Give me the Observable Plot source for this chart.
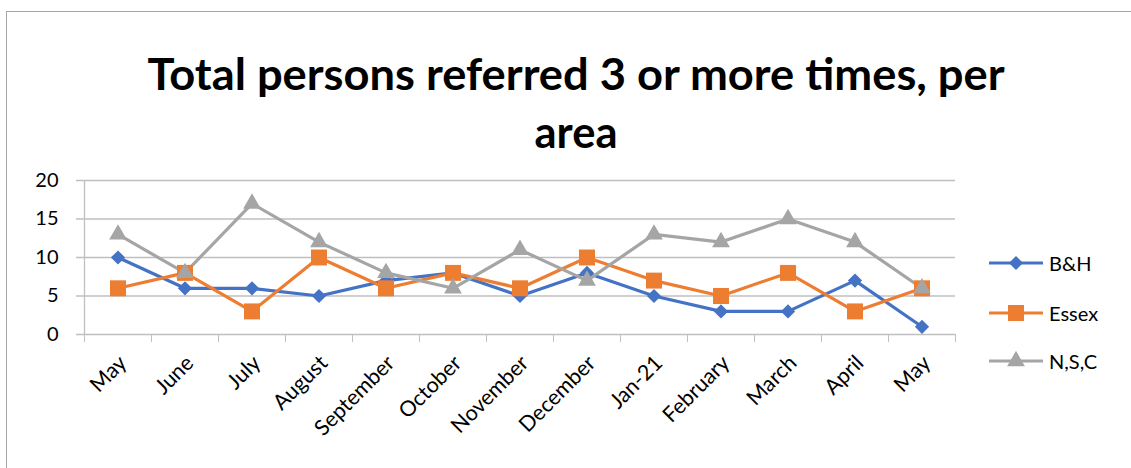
<!DOCTYPE html>
<html>
<head>
<meta charset="utf-8">
<script src="https://cdn.jsdelivr.net/npm/d3@7"></script>
<script src="https://cdn.jsdelivr.net/npm/@observablehq/plot@0.6"></script>
<style>
  html, body { margin: 0; padding: 0; background: #fff; }
  #wrap { position: relative; width: 1131px; height: 468px; overflow: hidden; font-family: Lato, "Open Sans", sans-serif; }
  #frame { position: absolute; left: 6px; top: 11px; width: 1200px; height: 600px; border: 1.5px solid #a6a6a6; box-sizing: border-box; }
  .tline { position: absolute; left: 0; width: 1153px; text-align: center; font-weight: 700; font-size: 43px; color: #000; white-space: nowrap; line-height: 1; }
  .tline span { display: inline-block; transform-origin: center; }
  #plot { position: absolute; left: 0; top: 160px; }
  #legend { position: absolute; left: 988px; top: 0; }
  .lrow { position: absolute; left: 0; display: flex; align-items: center; font-size: 20px; color: #000; white-space: nowrap; }
  .lrow svg { margin-right: 5px; }
</style>
</head>
<body>
<div id="wrap">
  <div id="frame"></div>
  <div class="tline" id="t1" style="top:52px"><span>Total persons referred 3 or more times, per</span></div>
  <div class="tline" id="t2" style="top:110px"><span>area</span></div>
  <div id="plot"></div>
  <div id="legend"></div>
</div>
<script>
const months = ["May","June","July","August","September","October","November","December","Jan-21","February","March","April","May"];
const bh    = [10, 6, 6, 5, 7, 8, 5, 8, 5, 3, 3, 7, 1];
const essex = [ 6, 8, 3,10, 6, 8, 6,10, 7, 5, 8, 3, 6];
const nsc   = [13, 8,17,12, 8, 6,11, 7,13,12,15,12, 6];
const seriesNames = ["B&H", "Essex", "N,S,C"];
const seriesColors = ["#4472C4", "#ED7D31", "#A5A5A5"];
const seriesSymbols = ["diamond2", "square", "triangle"];
const seriesR = [6.4, 9, 6.6];
const yTicks = [0, 5, 10, 15, 20];

const seriesValues = [bh, essex, nsc];
const rows = [];
seriesNames.forEach((name, s) => {
  seriesValues[s].forEach((v, i) => rows.push({series: name, i, month: months[i], value: v}));
});
const labels = months.map((m, i) => ({i, m}));
const boundaries = d3.range(months.length + 1).map(k => k - 0.5);
const grid = "#BFBFBF";

const marks = [
  Plot.ruleY(yTicks, {y: d => d, stroke: grid, strokeWidth: 1.3, insetLeft: -8}),
  Plot.axisY({ticks: yTicks, tickSize: 0, tickPadding: 26, fontSize: 20, fill: "#000", fontFamily: "Lato", label: null}),
  Plot.ruleX([boundaries[0]], {x: d => d, y1: 0, y2: 20, stroke: grid, strokeWidth: 1.3}),
  Plot.axisX({ticks: boundaries, tickSize: 8, tickFormat: () => "", stroke: grid, label: null}),
  Plot.text(labels, {x: "i", y: () => 0, text: "m", rotate: -45, textAnchor: "end", dx: 5, dy: 25, fontSize: 21.5, fill: "#000", fontFamily: "Lato"})
];
seriesNames.forEach((name, s) => {
  const data = rows.filter(r => r.series === name);
  marks.push(Plot.line(data, {x: "i", y: "value", stroke: seriesColors[s], strokeWidth: 3.2, curve: "linear"}));
});
seriesNames.forEach((name, s) => {
  const data = rows.filter(r => r.series === name);
  marks.push(Plot.dot(data, {x: "i", y: "value", symbol: () => seriesSymbols[s], r: seriesR[s], fill: seriesColors[s], stroke: "none"}));
});

const chart = Plot.plot({
  width: 1131, height: 308,
  marginTop: 20, marginBottom: 134, marginLeft: 84, marginRight: 176,
  x: {type: "linear", domain: [boundaries[0], boundaries[boundaries.length - 1]], axis: null},
  y: {domain: [0, 20], axis: null},
  style: {fontFamily: "Lato", background: "transparent", overflow: "visible"},
  marks
});
document.getElementById("plot").appendChild(chart);

// legend
const legend = document.getElementById("legend");
const legendTops = [263, 313, 361];
seriesNames.forEach((name, s) => {
  const row = document.createElement("div");
  row.className = "lrow";
  row.style.top = (legendTops[s] - 12) + "px";
  const svg = d3.create("svg").attr("width", 56).attr("height", 24);
  svg.append("line").attr("x1", 1).attr("x2", 55).attr("y1", 12).attr("y2", 12).attr("stroke", seriesColors[s]).attr("stroke-width", 3.2);
  const sym = {diamond2: d3.symbolDiamond2, square: d3.symbolSquare, triangle: d3.symbolTriangle}[seriesSymbols[s]];
  svg.append("path").attr("transform", "translate(28,12)")
    .attr("d", d3.symbol(sym, Math.PI * seriesR[s] * seriesR[s])()).attr("fill", seriesColors[s]);
  row.appendChild(svg.node());
  const t = document.createElement("span");
  t.textContent = name;
  row.appendChild(t);
  legend.appendChild(row);
});

// fit title line widths
const fit = (id, target) => {
  const sp = document.querySelector("#" + id + " span");
  const w = sp.getBoundingClientRect().width;
  sp.style.transform = "scaleX(" + (target / w) + ")";
};
fit("t1", 857);
fit("t2", 83);
</script>
</body>
</html>
